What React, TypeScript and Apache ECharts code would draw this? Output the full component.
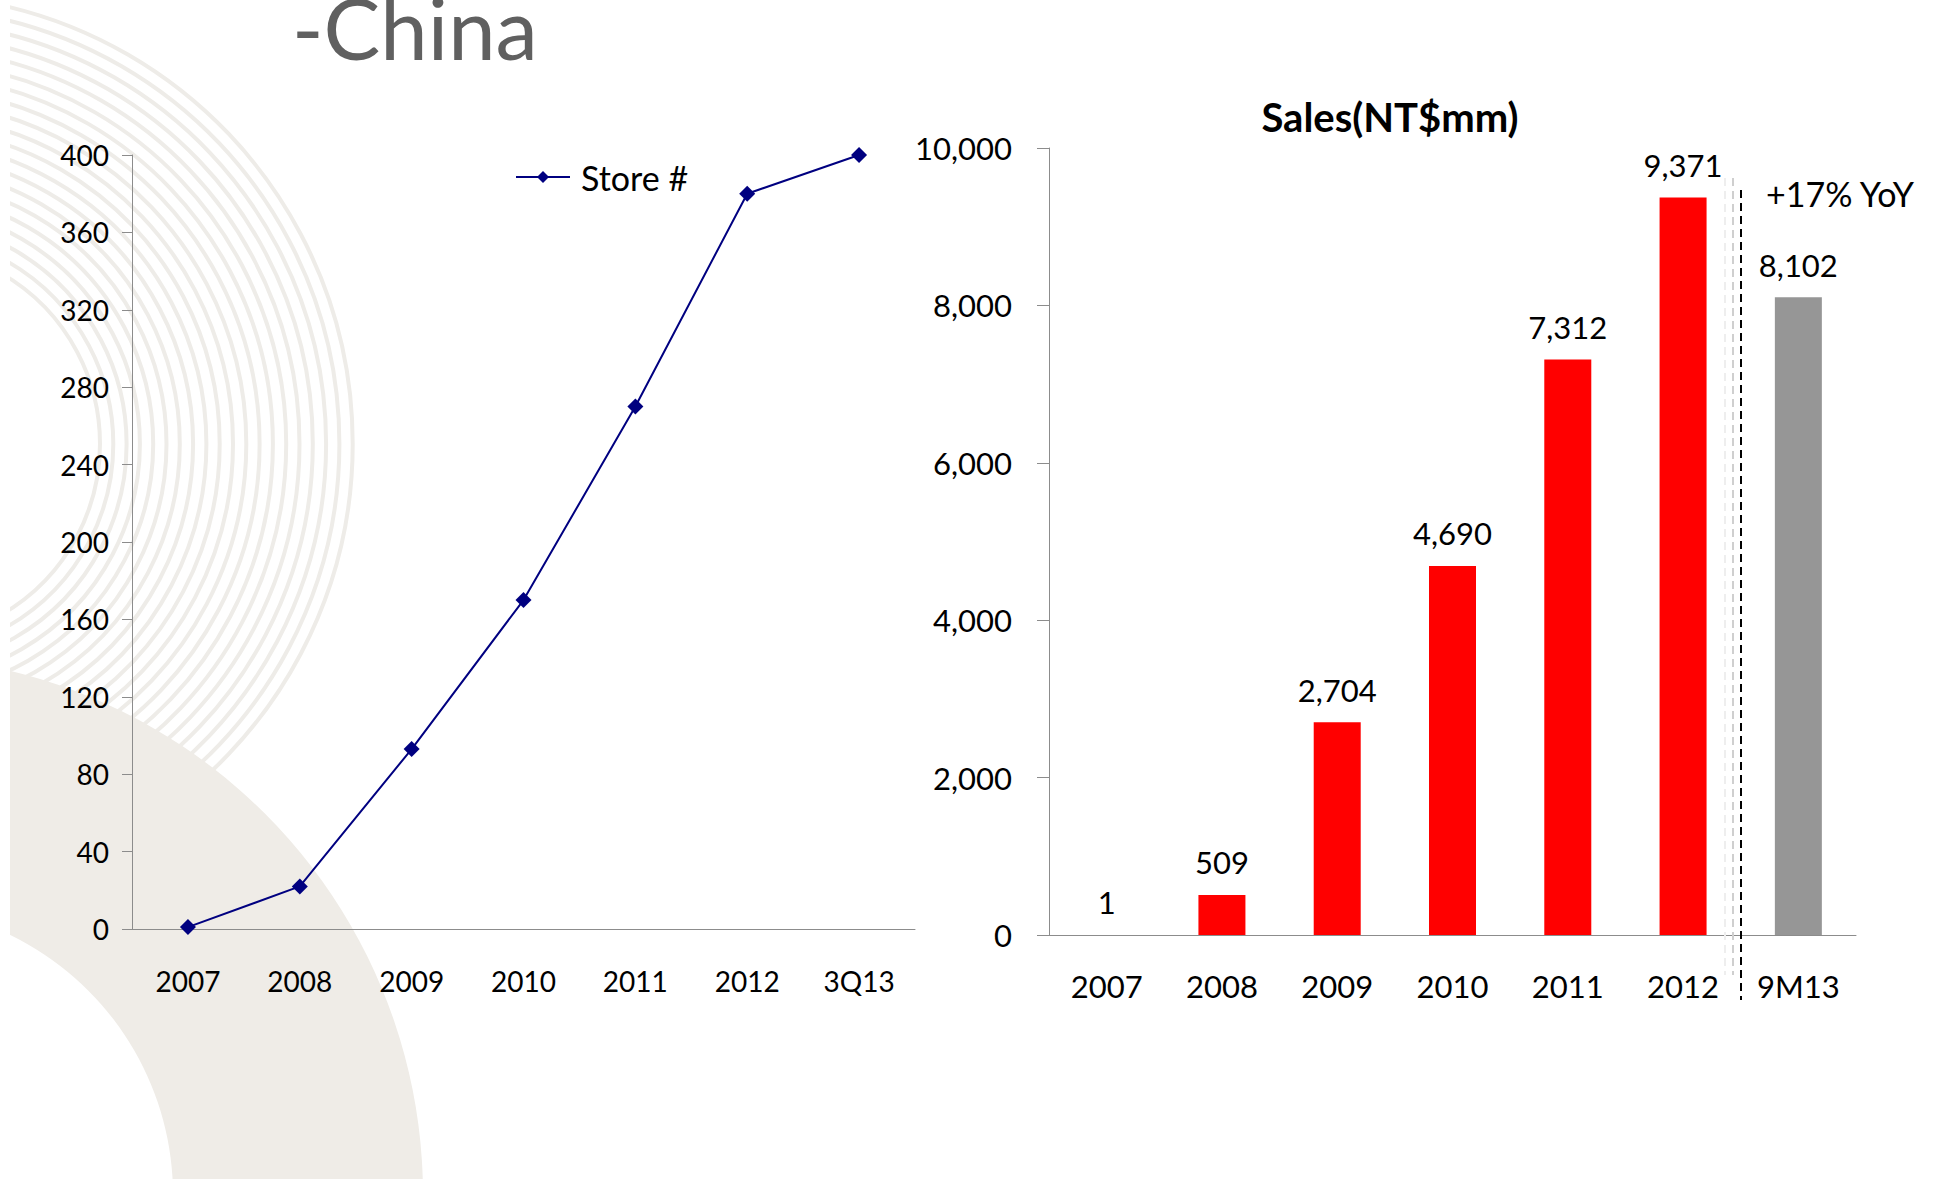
import React, { useEffect, useRef } from "react";
import * as echarts from "echarts";

const storeCategories = ["2007", "2008", "2009", "2010", "2011", "2012", "3Q13"];
const storeCounts = [1, 22, 93, 170, 270, 380, 400];
const storeSeriesName = "Store #";

const salesCategories = ["2007", "2008", "2009", "2010", "2011", "2012", "9M13"];
const salesValues = [1, 509, 2704, 4690, 7312, 9371, 8102];

const pageTitle = "-China";
const salesTitle = "Sales(NT$mm)";
const yoyNote = "+17% YoY";

const FONT = "Lato";
const fmt = (v: number) => Number(v).toLocaleString("en-US");

export default function App() {
  const ref = useRef<HTMLDivElement>(null);
  useEffect(() => {
    if (!ref.current) return;
    const chart = echarts.init(ref.current, null, { renderer: "svg" });
    const axisGray = "#8c8c8c";

    const arcs: any[] = [];
    for (let i = 0; i < 20; i++) {
      arcs.push({
        type: "circle",
        silent: true,
        z: -10,
        shape: { cx: -97, cy: 444, r: 197 + i * 13.3 },
        style: { fill: "none", stroke: "#EEECE8", lineWidth: 4 },
      });
    }

    const option: any = {
      animation: false,
      backgroundColor: "#ffffff",
      graphic: [
        ...arcs,
        {
          type: "ring",
          silent: true,
          z: -9,
          shape: { cx: -116, cy: 1195, r: 539, r0: 289 },
          style: { fill: "#EFECE7" },
        },
        {
          type: "rect",
          silent: true,
          z: -8,
          shape: { x: 0, y: 0, width: 10, height: 1179 },
          style: { fill: "#ffffff" },
        },
        {
          type: "text",
          z: 10,
          x: 292,
          y: 27,
          style: {
            text: pageTitle,
            fontFamily: FONT,
            fontSize: 85,
            lineHeight: 50,
            fill: "#606060",
            verticalAlign: "middle",
          },
        },
        {
          type: "text",
          z: 10,
          x: 1390,
          y: 117,
          style: {
            text: salesTitle,
            fontFamily: FONT,
            fontWeight: "bold",
            fontSize: 40,
            fill: "#000",
            align: "center",
            verticalAlign: "middle",
          },
        },
        {
          type: "text",
          z: 10,
          x: 1766,
          y: 193,
          style: {
            text: yoyNote,
            fontFamily: FONT,
            fontSize: 34,
            fill: "#000",
            verticalAlign: "middle",
          },
        },
        {
          type: "line",
          z: 10,
          shape: { x1: 1725, y1: 178, x2: 1725, y2: 975 },
          style: { stroke: "#eeeeee", lineWidth: 2, lineDash: [8, 5] },
        },
        {
          type: "line",
          z: 10,
          shape: { x1: 1733, y1: 178, x2: 1733, y2: 975 },
          style: { stroke: "#cfcfcf", lineWidth: 2, lineDash: [8, 5] },
        },
        {
          type: "line",
          z: 10,
          shape: { x1: 1741, y1: 190, x2: 1741, y2: 1000 },
          style: { stroke: "#000000", lineWidth: 2, lineDash: [8, 5] },
        },
      ],
      legend: {
        data: [storeSeriesName],
        left: 510,
        top: 155,
        itemWidth: 54,
        itemHeight: 15,
        textStyle: {
          fontFamily: FONT,
          fontSize: 34,
          color: "#000",
          padding: [0, 0, 0, 6],
        },
      },
      grid: [
        { left: 132, top: 155, width: 783, height: 774 },
        { left: 1049, top: 148, width: 807, height: 787 },
      ],
      xAxis: [
        {
          type: "category",
          gridIndex: 0,
          data: storeCategories,
          axisLine: { lineStyle: { color: axisGray, width: 1 } },
          axisTick: { length: 10, lineStyle: { color: axisGray } },
          axisLabel: { fontFamily: FONT, fontSize: 28, color: "#000", margin: 38, interval: 0 },
        },
        {
          type: "category",
          gridIndex: 1,
          data: salesCategories,
          axisLine: { lineStyle: { color: axisGray, width: 1 } },
          axisTick: { length: 10, lineStyle: { color: axisGray } },
          axisLabel: { fontFamily: FONT, fontSize: 31, color: "#000", margin: 35, interval: 0 },
        },
      ],
      yAxis: [
        {
          type: "value",
          gridIndex: 0,
          min: 0,
          max: 400,
          interval: 40,
          splitLine: { show: false },
          axisLine: { show: true, lineStyle: { color: axisGray, width: 1 } },
          axisTick: { show: true, length: 10, lineStyle: { color: axisGray } },
          axisLabel: { fontFamily: FONT, fontSize: 28, color: "#000", margin: 23 },
        },
        {
          type: "value",
          gridIndex: 1,
          min: 0,
          max: 10000,
          interval: 2000,
          splitLine: { show: false },
          axisLine: { show: true, lineStyle: { color: axisGray, width: 1 } },
          axisTick: { show: true, length: 12, lineStyle: { color: axisGray } },
          axisLabel: {
            fontFamily: FONT,
            fontSize: 31,
            color: "#000",
            margin: 37,
            formatter: (v: number) => fmt(v),
          },
        },
      ],
      series: [
        {
          type: "line",
          name: storeSeriesName,
          xAxisIndex: 0,
          yAxisIndex: 0,
          data: storeCounts,
          symbol: "diamond",
          symbolSize: 16,
          lineStyle: { color: "#000080", width: 2 },
          itemStyle: { color: "#000080" },
        },
        {
          type: "bar",
          name: "Sales",
          xAxisIndex: 1,
          yAxisIndex: 1,
          barWidth: 47,
          data: salesValues.map((v, i) => ({
            value: v,
            itemStyle: { color: i === salesValues.length - 1 ? "#969696" : "#FF0000" },
          })),
          label: {
            show: true,
            position: "top",
            distance: 17,
            fontFamily: FONT,
            fontSize: 31,
            color: "#000",
            formatter: (p: any) => fmt(p.value),
          },
        },
      ],
    };
    chart.setOption(option);
    return () => chart.dispose();
  }, []);

  return (
    <div
      ref={ref}
      style={{ position: "fixed", left: 0, top: 0, width: 1940, height: 1179 }}
    />
  );
}
